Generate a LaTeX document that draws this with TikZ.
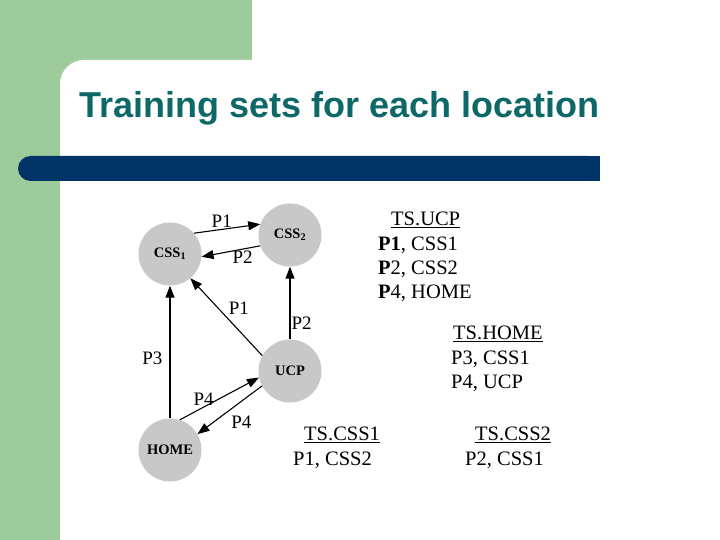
\documentclass[tikz,border=0pt]{standalone}
\usepackage{fontspec}
\setmainfont{Liberation Serif}
\newfontfamily\titlefont{Liberation Sans}
\usetikzlibrary{arrows.meta}
\definecolor{sidegreen}{RGB}{157,203,155}
\definecolor{barnavy}{RGB}{0,51,102}
\definecolor{titleteal}{RGB}{14,104,104}
\definecolor{nodegray}{RGB}{200,200,200}
\begin{document}
\begin{tikzpicture}[x=1pt,y=-1pt,
  loc/.style={circle,fill=nodegray,minimum size=63pt,inner sep=0pt,font=\fontsize{14.5}{16}\selectfont\bfseries},
  link/.style={line width=1.1pt,-{Triangle[length=12pt,width=9pt]}},
  elabel/.style={font=\fontsize{19}{21}\selectfont,inner sep=1pt},
  tstext/.style={font=\fontsize{20.5}{24.3}\selectfont,align=left,anchor=north west,inner sep=0pt}]
\useasboundingbox (0,0) rectangle (720,540);
\fill[white] (0,0) rectangle (720,540);
% background decoration
\fill[sidegreen] (0,0) rectangle (252,80);
\fill[sidegreen] (0,0) rectangle (60,540);
\fill[white] (60,540) [rounded corners=24pt] -- (60,60) [sharp corners] -- (720,60) -- (720,540) -- cycle;
\fill[barnavy, rounded corners=12.5pt] (18,156) rectangle (600,181);
\fill[barnavy] (300,156) rectangle (600,181);
\node[anchor=base west,text=titleteal,font=\titlefont\bfseries\fontsize{36}{42}\selectfont,inner sep=0pt] (title) at (79,118) {Training sets for each location};
% nodes
\node[loc] (css1) at (170,254) {CSS$_{\mathbf 1}$};
\node[loc] (css2) at (290,235) {CSS$_{\mathbf 2}$};
\node[loc] (ucp) at (290,371) {UCP};
\node[loc] (home) at (170,450) {HOME};
% connectors
\draw[link] (css1.41) -- node[elabel,above,pos=0.42] {P1} (css2.160);
\draw[link] (css2.200) -- node[elabel,below,pos=0.3] {P2} (css1.-5);
\draw[link] (ucp.151) -- node[elabel,anchor=south west,pos=0.5,inner sep=2pt] {P1} (css1.-50);
\draw[link] (ucp.north) -- node[elabel,right,pos=0.22] {P2} (css2.south);
\draw[link] (home.north) -- node[elabel,left=6pt,pos=0.45] {P3} (css1.south);
\draw[link] (home.72) -- node[elabel,above,pos=0.3] {P4} (ucp.192);
\draw[link] (ucp.208) -- node[elabel,below=13pt,pos=0.32] {P4} (home.30);
% training sets
\node[tstext] (tsucp) at (378,212) {\hspace*{13pt}\underline{TS.UCP}\\\textbf{P1}, CSS1\\\textbf{P}2, CSS2\\\textbf{P}4, HOME};
\node[tstext] (tshome) at (451,326) {\hspace*{2pt}\underline{TS.HOME}\\P3, CSS1\\P4, UCP};
\node[tstext] (tscss1) at (293,427) {\hspace*{11pt}\underline{TS.CSS1}\\P1, CSS2};
\node[tstext] (tscss2) at (465,427) {\hspace*{10pt}\underline{TS.CSS2}\\P2, CSS1};
\end{tikzpicture}
\end{document}
